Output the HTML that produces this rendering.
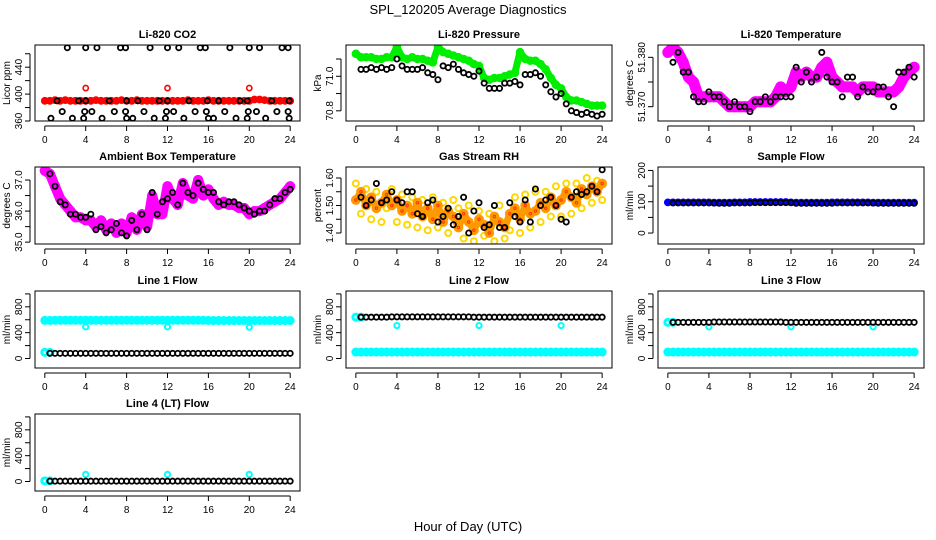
<!DOCTYPE html>
<html><head><meta charset="utf-8">
<style>
html,body{margin:0;padding:0;background:#fff;}
svg{display:block;font-family:"Liberation Sans",Arial,sans-serif;}
</style></head>
<body>
<svg id="chart" width="936" height="540" viewBox="0 0 936 540" xmlns="http://www.w3.org/2000/svg">
<text x="468" y="14" text-anchor="middle" font-size="13">SPL_120205  Average Diagnostics</text>
<text x="468" y="531" text-anchor="middle" font-size="13">Hour of Day (UTC)</text>
</svg>
<script>
const hours = [0,0.5,1,1.5,2,2.5,3,3.5,4,4.5,5,5.5,6,6.5,7,7.5,8,8.5,9,9.5,10,10.5,11,11.5,12,12.5,13,13.5,14,14.5,15,15.5,16,16.5,17,17.5,18,18.5,19,19.5,20,20.5,21,21.5,22,22.5,23,23.5,24];
const avgHours = [0.5,1,1.5,2,2.5,3,3.5,4,4.5,5,5.5,6,6.5,7,7.5,8,8.5,9,9.5,10,10.5,11,11.5,12,12.5,13,13.5,14,14.5,15,15.5,16,16.5,17,17.5,18,18.5,19,19.5,20,20.5,21,21.5,22,22.5,23,23.5,24];
const xTicks = [0,4,8,12,16,20,24];
const outlierHours = [4,12,20];

const co2Red = [390,390,391,390,391,390,390,390,390,390,391,390,390,390,390,391,390,390,391,390,390,390,390,390,390,390,390,390,391,390,390,390,391,390,390,390,390,390,390,390,390,392,392,391,390,390,390,390,390];
const co2RedOut = [409,409,409];
const co2BlackX = [2.2,4,5.1,7.4,7.9,10.3,12,13.1,15.2,15.7,18.1,20,21,23.2,23.8,1.2,3.3,4,6.3,8,9.1,11.2,12,14.1,15.9,17,19.1,19.8,22.2,23.9,1.7,3.9,4.6,6.8,7.9,9.7,11.9,12.6,14.7,15.8,17.6,19.9,20.7,22.7,23.8,0.6,2.7,3.8,5.6,8,8.6,10.7,11.8,13.6,16,16.5,18.7,19.8,21.6,23.9];
const co2BlackY = [469,469,469,469,469,469,469,469,469,469,469,469,469,469,469,390,390,390,390,390,390,390,390,390,390,390,390,390,390,390,374,374,374,374,374,374,374,374,374,374,374,374,374,374,374,364,364,364,364,364,364,364,364,364,364,364,364,364,364,364];

const presGreen = [71.13,71.11,71.11,71.11,71.10,71.10,71.11,71.11,71.17,71.11,71.10,71.11,71.10,71.10,71.09,71.08,71.17,71.14,71.13,71.12,71.11,71.10,71.09,71.07,71.06,70.99,70.98,70.99,70.99,71.00,71.01,71.02,71.14,71.10,71.09,71.09,71.07,71.04,70.99,70.95,70.93,70.88,70.86,70.86,70.85,70.84,70.83,70.83,70.83];
const presBlack = [71.04,71.04,71.05,71.04,71.05,71.04,71.05,71.10,71.06,71.04,71.04,71.04,71.05,71.02,71.01,70.98,71.06,71.05,71.07,71.04,71.02,71.01,71.00,71.03,70.96,70.93,70.93,70.93,70.96,70.96,70.97,70.95,71.01,71.01,71.02,71.00,70.95,70.91,70.88,70.90,70.84,70.80,70.79,70.78,70.79,70.78,70.77,70.78];

const liTempMag = [51.381,51.382,51.381,51.379,51.376,51.375,51.372,51.372,51.372,51.372,51.372,51.371,51.370,51.370,51.370,51.370,51.370,51.371,51.371,51.371,51.371,51.372,51.374,51.373,51.374,51.377,51.376,51.377,51.376,51.376,51.378,51.379,51.376,51.375,51.374,51.374,51.374,51.373,51.374,51.374,51.374,51.373,51.373,51.373,51.373,51.374,51.376,51.377,51.378];
const liTempBlack = [51.379,51.381,51.377,51.377,51.372,51.371,51.371,51.373,51.372,51.372,51.371,51.370,51.371,51.370,51.370,51.369,51.371,51.371,51.372,51.371,51.372,51.372,51.372,51.372,51.378,51.375,51.377,51.375,51.376,51.381,51.376,51.375,51.375,51.372,51.376,51.376,51.372,51.374,51.373,51.373,51.374,51.374,51.372,51.370,51.377,51.377,51.378,51.376];

const ambMag = [37.3,37.2,36.8,36.4,36.2,36.0,35.8,35.8,35.7,35.7,35.5,35.7,35.4,35.6,35.3,35.6,35.3,35.8,35.4,35.9,35.5,36.5,35.9,35.9,36.8,36.4,36.2,36.9,36.5,36.4,37.0,36.5,36.7,36.4,36.2,36.3,36.2,36.2,36.1,36.1,35.9,36.0,36.0,36.1,36.2,36.3,36.4,36.6,36.8];
const ambBlack = [37.2,36.8,36.3,36.2,35.9,35.9,35.8,35.8,35.9,35.4,35.5,35.3,35.4,35.6,35.3,35.2,35.7,35.4,35.9,35.4,36.6,35.9,36.3,36.4,36.6,36.2,36.9,36.6,36.5,36.9,36.7,36.6,36.6,36.3,36.2,36.3,36.3,36.2,36.1,36.0,35.9,36.0,36.0,36.2,36.4,36.4,36.6,36.7];

const rhOrange = [1.52,1.55,1.50,1.53,1.49,1.51,1.54,1.50,1.52,1.48,1.50,1.47,1.51,1.46,1.49,1.45,1.50,1.44,1.48,1.46,1.42,1.47,1.44,1.41,1.45,1.43,1.40,1.46,1.44,1.42,1.47,1.49,1.45,1.50,1.47,1.48,1.51,1.49,1.53,1.50,1.52,1.55,1.53,1.51,1.56,1.54,1.57,1.55,1.58];
const rhYellow = [1.58,1.47,1.56,1.45,1.55,1.44,1.49,1.56,1.44,1.54,1.43,1.53,1.42,1.52,1.41,1.53,1.42,1.51,1.40,1.52,1.49,1.38,1.50,1.37,1.48,1.39,1.47,1.37,1.50,1.38,1.41,1.53,1.40,1.54,1.42,1.55,1.44,1.55,1.46,1.57,1.46,1.58,1.47,1.58,1.49,1.60,1.51,1.59,1.52];
const rhBlack = [1.53,1.50,1.52,1.58,1.51,1.52,1.55,1.52,1.51,1.55,1.55,1.47,1.46,1.51,1.52,1.44,1.46,1.49,1.43,1.46,1.53,1.40,1.48,1.51,1.42,1.43,1.50,1.42,1.42,1.51,1.46,1.44,1.52,1.44,1.56,1.50,1.52,1.53,1.50,1.45,1.44,1.53,1.55,1.54,1.55,1.57,1.55,1.63];

const sampleBlue = [98,98,98,98,98,98,98,98,98,97,97,97,97,98,98,98,99,99,99,99,99,99,99,99,98,97,97,97,97,97,97,97,98,98,98,98,98,98,98,98,97,97,97,97,97,97,97,97,97];
const sampleBlack = [96,96,96,96,96,96,96,96,96,95,95,95,96,96,96,96,97,97,97,97,97,97,97,97,95,95,95,95,95,95,95,95,96,96,96,96,96,96,96,96,95,95,95,95,95,95,95,95];

const line1Cyan = [590,590,592,592,592,592,592,592,592,592,592,592,592,592,592,592,592,592,592,592,592,592,592,592,592,592,592,592,592,592,592,592,590,588,588,588,588,588,588,588,588,588,588,588,588,588,588,588,588];
const line1CyanLow = [95,95];
const line1Black = [80,80,80,80,80,80,80,80,80,80,80,80,80,80,80,80,80,80,80,80,80,80,80,80,80,80,80,80,80,80,80,80,80,80,80,80,80,80,80,80,80,80,80,80,80,80,80,80];
const line1Out = [490,490,485];

const line2Cyan = [100,100,100,100,100,100,100,100,100,100,100,100,100,100,100,100,100,100,100,100,100,100,100,100,100,100,100,100,100,100,100,100,100,100,100,100,100,100,100,100,100,100,100,100,100,100,100,100,100];
const line2CyanHigh = [640,640];
const line2Black = [640,640,640,640,640,640,645,645,645,645,645,645,645,645,645,645,645,645,645,645,645,645,640,640,640,640,640,640,640,640,640,640,640,640,640,640,640,640,640,640,640,640,640,640,640,640,640,640];
const line2Out = [510,510,510];

const line3Cyan = [100,100,100,100,100,100,100,100,100,100,100,100,100,100,100,100,100,100,100,100,100,100,100,100,100,100,100,100,100,100,100,100,100,100,100,100,100,100,100,100,100,100,100,100,100,100,100,100,100];
const line3CyanHigh = [560,560];
const line3Black = [560,560,560,560,560,560,560,560,565,565,565,565,565,565,565,565,565,565,565,565,565,565,560,560,560,560,560,560,560,560,560,560,560,560,560,560,560,560,560,560,560,560,560,560,560,560,560,560];
const line3Out = [490,490,490];

const line4Cyan = [10,10];
const line4Black = [5,5,5,5,5,5,5,5,5,5,5,5,5,5,5,5,5,5,5,5,5,5,5,5,5,5,5,5,5,5,5,5,5,5,5,5,5,5,5,5,5,5,5,5,5,5,5,5];
const line4Out = [110,110,110];

const NS = "http://www.w3.org/2000/svg";
const svg = document.getElementById("chart");
function mk(tag, attrs, parent) {
  const e = document.createElementNS(NS, tag);
  for (const k in attrs) e.setAttribute(k, attrs[k]);
  (parent || svg).appendChild(e);
  return e;
}
const COLS = [[35,300],[346,612],[658,924]];
const ROWS = [[45,121],[167,244],[291,368],[414,491]];

function panel(key, col, row, title, ylab, ydom, yticks, ylabels, series) {
  const [L,R] = COLS[col], [T,B] = ROWS[row];
  const g = mk("g", {});
  
  
  const xs = h => L + (h + 0.96) / 25.92 * (R - L);
  const ys = v => B - (v - ydom[0]) / (ydom[1] - ydom[0]) * (B - T);
  const t = mk("text", {x:(L+R)/2, y:T-7, "text-anchor":"middle", "font-size":"11", "font-weight":"bold"}, g);
  t.textContent = title;
  
  
  const yl = mk("text", {x:0, y:0, transform:`translate(${L-25},${(T+B)/2}) rotate(-90)`, "text-anchor":"middle", "font-size":"10"}, g);
  yl.textContent = ylab;
  
  
  const cp = mk("clipPath", {id:"clip-" + key}, g);
  mk("rect", {x:L, y:T, width:R-L, height:B-T}, cp);
  const sg = mk("g", {fill:"none", "clip-path":`url(#clip-${key})`}, g);
  series.forEach(s => {
    if (s.band) {
      const pts = s.y.map((v, i) => xs(s.x[i]).toFixed(1) + "," + ys(v).toFixed(1)).join(" ");
      const pl = mk("polyline", {points:pts, stroke:s.c, "stroke-width":s.band, "stroke-linejoin":"round", "stroke-linecap":"round", fill:"none"}, sg);
      
      
    }
    s.y.forEach((v, i) => {
      const c = mk("circle", {cx:xs(s.x[i]), cy:ys(v), r:s.r||2.6, stroke:s.c, "stroke-width":s.w||1.6}, sg);
      
      
    });
  });
  const box = mk("rect", {x:L, y:T, width:R-L, height:B-T, fill:"none", stroke:"#000", "stroke-width":1}, g);
  
  
  mk("line", {x1:xs(xTicks[0]), x2:xs(xTicks[xTicks.length-1]), y1:B+5, y2:B+5, stroke:"#000"}, g);
  xTicks.forEach(v => {
    mk("line", {x1:xs(v), x2:xs(v), y1:B+5, y2:B+10, stroke:"#000"}, g);
    const tl = mk("text", {x:xs(v), y:B+22, "text-anchor":"middle", "font-size":"10"}, g);
    tl.textContent = v;
    
    
  });
  mk("line", {x1:L-5, x2:L-5, y1:ys(yticks[0]), y2:ys(yticks[yticks.length-1]), stroke:"#000"}, g);
  yticks.forEach(v => {
    mk("line", {x1:L-10, x2:L-5, y1:ys(v), y2:ys(v), stroke:"#000"}, g);
  });
  ylabels.forEach(v => {
    const tl = mk("text", {x:0, y:0, transform:`translate(${L-13},${ys(v)}) rotate(-90)`, "text-anchor":"middle", "font-size":"10"}, g);
    tl.textContent = v;
    
    
  });
}

panel("co2", 0, 0, "Li-820 CO2", "Licor ppm", [360,473], [360,380,400,420,440,460], ["360","400","440"], [
  {n:"red", x:hours, y:co2Red, c:"#ff0000", r:2.8, w:2.2, band:6},
  {n:"red-outlier", x:outlierHours, y:co2RedOut, c:"#ff0000"},
  {n:"black", x:co2BlackX, y:co2BlackY, c:"#000", w:1.8}
]);
panel("pressure", 1, 0, "Li-820 Pressure", "kPa", [70.741,71.181], [70.8,70.9,71.0,71.1], ["70.8","71.0"], [
  {n:"green", x:hours, y:presGreen, c:"#00ee00", r:3, w:2.5, band:7},
  {n:"black", x:avgHours, y:presBlack, c:"#000", w:1.8}
]);
panel("li-temp", 2, 0, "Li-820 Temperature", "degrees C", [51.3671,51.3825], [51.370,51.375,51.380], ["51.370","51.380"], [
  {n:"magenta", x:hours, y:liTempMag, c:"#ff00ff", r:4, w:3, band:11},
  {n:"black", x:avgHours, y:liTempBlack, c:"#000", w:1.8}
]);
panel("ambient-temp", 0, 1, "Ambient Box Temperature", "degrees C", [34.94,37.42], [35.0,35.5,36.0,36.5,37.0], ["35.0","36.0","37.0"], [
  {n:"magenta", x:hours, y:ambMag, c:"#ff00ff", r:3.6, w:3, band:10},
  {n:"black", x:avgHours, y:ambBlack, c:"#000", w:1.8}
]);
panel("rh", 1, 1, "Gas Stream RH", "percent", [1.36,1.64], [1.40,1.45,1.50,1.55,1.60], ["1.40","1.50","1.60"], [
  {n:"yellow", x:hours, y:rhYellow, c:"#ffd700", r:3, w:2},
  {n:"orange", x:hours, y:rhOrange, c:"#ff9900", r:3.4, w:3, band:7},
  {n:"red", x:hours, y:rhOrange, c:"#ff3300", r:1.2, w:1},
  {n:"black", x:avgHours, y:rhBlack, c:"#000", w:1.8}
]);
panel("sample-flow", 2, 1, "Sample Flow", "ml/min", [-35,211], [0,50,100,150,200], ["0","100","200"], [
  {n:"blue", x:hours, y:sampleBlue, c:"#0000ff", r:2.8, w:2.2, band:6},
  {n:"black", x:avgHours, y:sampleBlack, c:"#000"}
]);
const flowTicks = [0,200,400,600,800,1000], flowLabels = ["0","400","800"];
panel("line1-flow", 0, 2, "Line 1 Flow", "ml/min", [-147,1045], flowTicks, flowLabels, [
  {n:"cyan", x:hours, y:line1Cyan, c:"#00ffff", r:3, w:3, band:7},
  {n:"cyan-low", x:hours, y:line1CyanLow, c:"#00ffff", r:3, w:3},
  {n:"cyan-outlier", x:outlierHours, y:line1Out, c:"#00ffff", w:2},
  {n:"black", x:avgHours, y:line1Black, c:"#000", w:1.8}
]);
panel("line2-flow", 1, 2, "Line 2 Flow", "ml/min", [-147,1045], flowTicks, flowLabels, [
  {n:"cyan", x:hours, y:line2Cyan, c:"#00ffff", r:3, w:3, band:7},
  {n:"cyan-high", x:hours, y:line2CyanHigh, c:"#00ffff", r:3, w:3},
  {n:"cyan-outlier", x:outlierHours, y:line2Out, c:"#00ffff", w:2},
  {n:"black", x:avgHours, y:line2Black, c:"#000", w:1.8}
]);
panel("line3-flow", 2, 2, "Line 3 Flow", "ml/min", [-147,1045], flowTicks, flowLabels, [
  {n:"cyan", x:hours, y:line3Cyan, c:"#00ffff", r:3, w:3, band:7},
  {n:"cyan-high", x:hours, y:line3CyanHigh, c:"#00ffff", r:3, w:3},
  {n:"cyan-outlier", x:outlierHours, y:line3Out, c:"#00ffff", w:2},
  {n:"black", x:avgHours, y:line3Black, c:"#000", w:1.8}
]);
panel("line4-flow", 0, 3, "Line 4 (LT) Flow", "ml/min", [-147,1045], flowTicks, flowLabels, [
  {n:"cyan", x:hours, y:line4Cyan, c:"#00ffff", r:3, w:3},
  {n:"cyan-outlier", x:outlierHours, y:line4Out, c:"#00ffff", w:2},
  {n:"black", x:avgHours, y:line4Black, c:"#000", w:1.8}
]);
</script>
</body></html>
